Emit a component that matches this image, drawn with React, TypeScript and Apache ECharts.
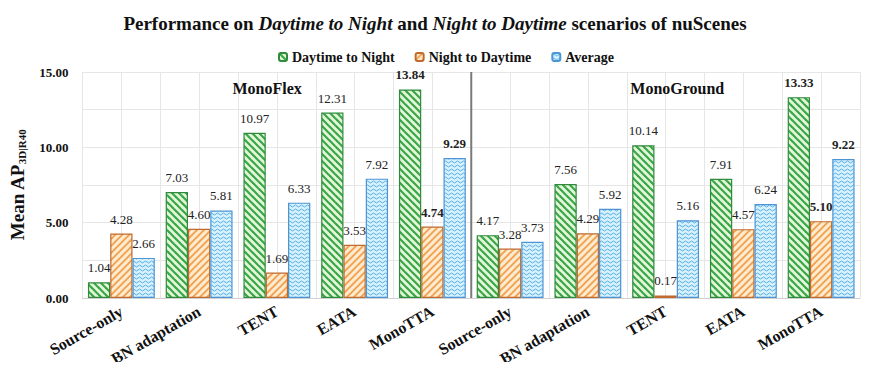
import React, { useEffect, useRef } from "react";
import * as echarts from "echarts";

const categories = ["Source-only", "BN adaptation", "TENT", "EATA", "MonoTTA", "Source-only", "BN adaptation", "TENT", "EATA", "MonoTTA"];
const dayToNight = [1.04, 7.03, 10.97, 12.31, 13.84, 4.17, 7.56, 10.14, 7.91, 13.33];
const nightToDay = [4.28, 4.60, 1.69, 3.53, 4.74, 3.28, 4.29, 0.17, 4.57, 5.10];
const average = [2.66, 5.81, 6.33, 7.92, 9.29, 3.73, 5.92, 5.16, 6.24, 9.22];
const boldIdx = [4, 9];
const seriesNames = ["Daytime to Night", "Night to Daytime", "Average"];
const groupNames = ["MonoFlex", "MonoGround"];

const SERIF = "Liberation Serif";

function stripeCanvas(bg: string, fg: string, dir: 1 | -1, size: number, lw: number) {
  const c = document.createElement("canvas");
  c.width = size;
  c.height = size;
  const ctx = c.getContext("2d")!;
  ctx.fillStyle = bg;
  ctx.fillRect(0, 0, size, size);
  ctx.strokeStyle = fg;
  ctx.lineWidth = lw;
  ctx.lineCap = "square";
  for (let k = -1; k <= 1; k++) {
    ctx.beginPath();
    if (dir === 1) {
      ctx.moveTo(k * size, 0);
      ctx.lineTo(k * size + size, size);
    } else {
      ctx.moveTo(k * size + size, 0);
      ctx.lineTo(k * size, size);
    }
    ctx.stroke();
  }
  return c;
}

function waveCanvas(bg: string, fg: string) {
  const w = 6, h = 4;
  const c = document.createElement("canvas");
  c.width = w;
  c.height = h;
  const ctx = c.getContext("2d")!;
  ctx.fillStyle = bg;
  ctx.fillRect(0, 0, w, h);
  ctx.strokeStyle = fg;
  ctx.lineWidth = 1;
  ctx.beginPath();
  ctx.moveTo(0, 2);
  ctx.quadraticCurveTo(1.5, 0, 3, 2);
  ctx.quadraticCurveTo(4.5, 4, 6, 2);
  ctx.stroke();
  return c;
}

export default function App() {
  const ref = useRef<HTMLDivElement>(null);
  useEffect(() => {
    if (!ref.current) return;
    const chart = echarts.init(ref.current, null, { renderer: "svg" });
    const greenPat = stripeCanvas("#e4f6d9", "#3aa648", 1, 7, 2.2);
    const orangePat = stripeCanvas("#fdebcf", "#f0a252", -1, 7, 1.9);
    const bluePat = waveCanvas("#d8f1fc", "#52b0e6");
    const pats = [greenPat, orangePat, bluePat];
    const borders = ["#2f8a3c", "#c06a2e", "#4c94d4"];
    const datas = [dayToNight, nightToDay, average];

    const mkData = (arr: number[]) =>
      arr.map((v, i) =>
        boldIdx.includes(i)
          ? { value: v, label: { fontWeight: "bold" as const } }
          : { value: v }
      );

    chart.setOption({
      animation: false,
      textStyle: { fontFamily: SERIF },
      title: {
        text: "{b|Performance on }{i|Daytime to Night}{b| and }{i|Night to Daytime}{b| scenarios of nuScenes}",
        left: "center",
        top: 9,
        textStyle: {
          fontFamily: SERIF,
          rich: {
            b: { fontFamily: SERIF, fontSize: 19, fontWeight: "bold", color: "#111" },
            i: { fontFamily: SERIF, fontSize: 19, fontWeight: "bold", fontStyle: "italic", color: "#111" },
          },
        },
      },
      legend: {
        top: 45,
        left: 273,
        itemWidth: 8,
        itemHeight: 8,
        itemGap: 20,
        textStyle: { fontFamily: SERIF, fontSize: 14, fontWeight: "bold", color: "#111" },
        data: seriesNames,
      },
      grid: { left: 82, right: 10, top: 72, bottom: 72 },
      xAxis: [
        {
          type: "category",
          data: categories,
          axisTick: { show: false },
          axisLine: { lineStyle: { color: "#d0d0d0" } },
          splitLine: { show: false },
          axisLabel: {
            interval: 0,
            rotate: 30,
            fontFamily: SERIF,
            fontSize: 16,
            fontWeight: "bold",
            color: "#111",
            margin: 12,
          },
        },
        {
          type: "value",
          min: 0,
          max: 20,
          interval: 1,
          position: "top",
          axisLine: { show: false },
          axisTick: { show: false },
          axisLabel: { show: false },
          splitLine: { show: true, lineStyle: { color: "#e6e6e6", width: 1 } },
        },
      ],
      yAxis: {
        type: "value",
        min: 0,
        max: 15,
        interval: 2.5,
        name: "{m|Mean AP}{s|3D|R40}",
        nameLocation: "middle",
        nameRotate: 90,
        nameGap: 55,
        nameTextStyle: {
          fontFamily: SERIF,
          rich: {
            m: { fontFamily: SERIF, fontSize: 19, fontWeight: "bold", color: "#111" },
            s: { fontFamily: SERIF, fontSize: 11, fontWeight: "bold", color: "#111", verticalAlign: "bottom", padding: [9, 0, 0, 0] },
          },
        },
        axisLine: { show: false },
        axisTick: { show: false },
        axisLabel: {
          formatter: (v: number) => (v % 5 === 0 ? v.toFixed(2) : ""),
          fontFamily: SERIF,
          fontSize: 13,
          fontWeight: "bold",
          color: "#111",
          margin: 14,
        },
        splitLine: { lineStyle: { color: "#e6e6e6" } },
      },
      series: datas.map((arr, s) => ({
        name: seriesNames[s],
        type: "bar",
        xAxisIndex: 0,
        data: mkData(arr),
        barGap: "0%",
        barCategoryGap: "14%",
        itemStyle: {
          color: { image: pats[s], repeat: "repeat" },
          borderColor: borders[s],
          borderWidth: 1.2,
        },
        label: {
          show: true,
          position: "top",
          distance: 8,
          formatter: (p: any) => Number(p.value).toFixed(2),
          fontFamily: SERIF,
          fontSize: 13,
          color: "#222",
        },
      })),
    });

    const top = chart.convertToPixel({ yAxisIndex: 0 }, 15) as number;
    const bottom = chart.convertToPixel({ yAxisIndex: 0 }, 0) as number;
    const sepX = chart.convertToPixel({ xAxisIndex: 1 }, 10) as number;
    const c1 = chart.convertToPixel({ xAxisIndex: 1 }, 4.75) as number;
    const c2 = chart.convertToPixel({ xAxisIndex: 1 }, 15.3) as number;
    chart.setOption({
      graphic: [
        {
          type: "line",
          shape: { x1: sepX, y1: top, x2: sepX, y2: bottom },
          style: { stroke: "#7a7a7a", lineWidth: 2 },
          z: 10,
        },
        {
          type: "text",
          x: c1,
          y: top + 16,
          style: {
            text: groupNames[0],
            fontFamily: SERIF,
            fontSize: 16,
            fontWeight: "bold",
            fill: "#111",
            align: "center",
            verticalAlign: "middle",
          },
          z: 10,
        },
        {
          type: "text",
          x: c2,
          y: top + 16,
          style: {
            text: groupNames[1],
            fontFamily: SERIF,
            fontSize: 16,
            fontWeight: "bold",
            fill: "#111",
            align: "center",
            verticalAlign: "middle",
          },
          z: 10,
        },
      ],
    });

    return () => chart.dispose();
  }, []);
  return <div ref={ref} style={{ width: 870, height: 370, margin: -8 }} />;
}
